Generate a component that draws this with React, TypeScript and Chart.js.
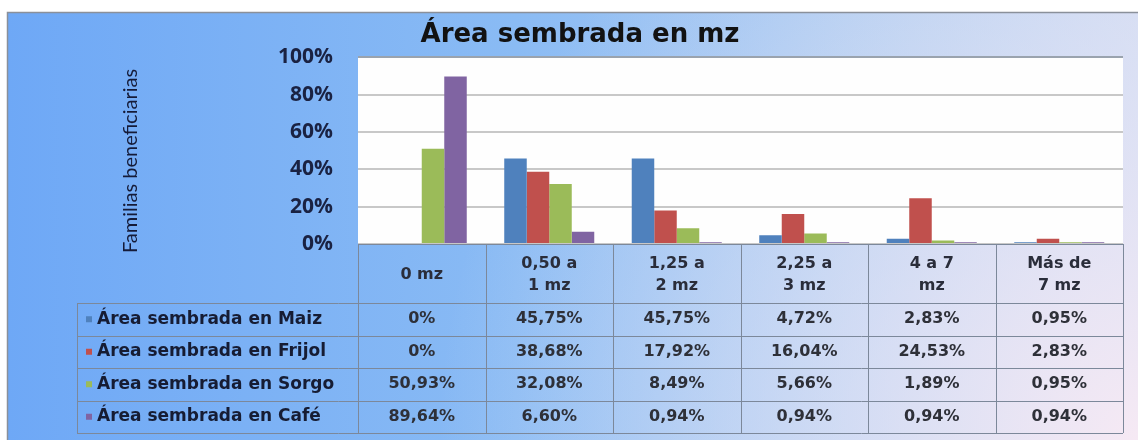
import React, { useEffect, useRef } from 'react';
import { Chart, registerables } from 'chart.js';

Chart.register(...registerables);

// ---- data ----
const categories: string[][] = [
  ['0 mz'],
  ['0,50 a', '1 mz'],
  ['1,25 a', '2 mz'],
  ['2,25 a', '3 mz'],
  ['4 a 7', 'mz'],
  ['Más de', '7 mz'],
];
const seriesNames = [
  'Área sembrada en Maiz',
  'Área sembrada en Frijol',
  'Área sembrada en Sorgo',
  'Área sembrada en Café',
];
const maiz = [0, 45.75, 45.75, 4.72, 2.83, 0.95];
const frijol = [0, 38.68, 17.92, 16.04, 24.53, 2.83];
const sorgo = [50.93, 32.08, 8.49, 5.66, 1.89, 0.95];
const cafe = [89.64, 6.6, 0.94, 0.94, 0.94, 0.94];
const yTicks = [0, 20, 40, 60, 80, 100];
const chartTitle = 'Área sembrada en mz';
const yAxisTitle = 'Familias beneficiarias';
const seriesColors = ['#4f81bd', '#c0504d', '#9bbb59', '#8064a2'];

const fmt = (v: number) => (v === 0 ? '0%' : v.toFixed(2).replace('.', ',') + '%');

const backgroundPlugin = {
  id: 'bgPanel',
  beforeDraw(chart: any) {
    const { ctx, width, height, chartArea } = chart;
    ctx.save();
    ctx.fillStyle = '#ffffff';
    ctx.fillRect(0, 0, width, height);
    const g = ctx.createLinearGradient(7, 0, width, 0);
    g.addColorStop(0, '#6ea8f6');
    g.addColorStop(0.45, '#8abbf4');
    g.addColorStop(0.8, '#b4cef1');
    g.addColorStop(1, '#ccd9f2');
    ctx.fillStyle = g;
    ctx.fillRect(7, 12, width - 7, height - 12);
    const r = ctx.createRadialGradient(width, height, 0, width, height, 700);
    r.addColorStop(0, 'rgba(248,234,244,0.95)');
    r.addColorStop(0.45, 'rgba(236,232,246,0.55)');
    r.addColorStop(1, 'rgba(230,232,246,0)');
    ctx.fillStyle = r;
    ctx.fillRect(7, 12, width - 7, height - 12);
    ctx.strokeStyle = '#8a909a';
    ctx.lineWidth = 1.5;
    ctx.beginPath();
    ctx.moveTo(7.5, height);
    ctx.lineTo(7.5, 12.5);
    ctx.lineTo(width, 12.5);
    ctx.stroke();
    ctx.fillStyle = '#fefefe';
    ctx.fillRect(chartArea.left, chartArea.top, chartArea.right - chartArea.left, chartArea.bottom - chartArea.top);
    ctx.restore();
  },
};

const tablePlugin = {
  id: 'dataTable',
  afterDraw(chart: any) {
    const { ctx, chartArea } = chart;
    const xs = chart.scales.x;
    const labels = chart.data.labels as string[][];
    const datasets = chart.data.datasets;
    const n = labels.length;
    const colW = (chartArea.right - chartArea.left) / n;
    const top = xs.top;
    const bottom = xs.bottom;
    const headerH = 59;
    const rowH = (bottom - top - headerH) / datasets.length;
    const labelLeft = 77;

    ctx.save();
    ctx.strokeStyle = '#7c889a';
    ctx.lineWidth = 1;
    const line = (x1: number, y1: number, x2: number, y2: number) => {
      ctx.beginPath();
      ctx.moveTo(x1, y1);
      ctx.lineTo(x2, y2);
      ctx.stroke();
    };
    for (let i = 0; i <= n; i++) {
      const x = Math.round(chartArea.left + i * colW) + 0.5;
      line(x, top, x, bottom);
    }
    line(labelLeft + 0.5, top + headerH, labelLeft + 0.5, bottom);
    for (let r = 0; r <= datasets.length; r++) {
      const y = Math.round(top + headerH + r * rowH) + 0.5;
      line(labelLeft, y, chartArea.right, y);
    }

    ctx.textAlign = 'center';
    ctx.textBaseline = 'middle';
    ctx.font = 'bold 16px "DejaVu Sans"';
    ctx.fillStyle = '#2a2d3a';
    labels.forEach((lab, i) => {
      const cx = xs.getPixelForValue(i);
      const lines = Array.isArray(lab) ? lab : [lab];
      const cy = top + headerH / 2 + 1;
      lines.forEach((t, k) => ctx.fillText(t, cx, cy + (k - (lines.length - 1) / 2) * 22));
    });

    datasets.forEach((ds: any, r: number) => {
      const cy = top + headerH + (r + 0.5) * rowH;
      ctx.fillStyle = ds.backgroundColor;
      ctx.fillRect(86, cy - 3, 6, 6);
      ctx.textAlign = 'left';
      ctx.font = 'bold 17px "DejaVu Sans"';
      ctx.fillStyle = '#161c33';
      ctx.fillText(ds.label, 97, cy);
      ctx.textAlign = 'center';
      ctx.font = 'bold 16px "DejaVu Sans"';
      ctx.fillStyle = '#2e3038';
      ds.data.forEach((v: number, i: number) => ctx.fillText(fmt(v), xs.getPixelForValue(i), cy));
    });

    // rotated y-axis title
    ctx.save();
    ctx.translate(131, 161);
    ctx.rotate(-Math.PI / 2);
    ctx.textAlign = 'center';
    ctx.textBaseline = 'middle';
    ctx.font = '20px Lato';
    ctx.fillStyle = '#151b38';
    ctx.fillText(yAxisTitle, 0, 0);
    ctx.restore();

    ctx.restore();
  },
};

export default function App() {
  const ref = useRef<HTMLCanvasElement | null>(null);

  useEffect(() => {
    document.body.style.margin = '0';
    if (!ref.current) return;
    const allSeries = [maiz, frijol, sorgo, cafe];
    const chart = new Chart(ref.current, {
      type: 'bar',
      data: {
        labels: categories,
        datasets: allSeries.map((d, i) => ({
          label: seriesNames[i],
          data: d,
          backgroundColor: seriesColors[i],
          borderWidth: 0,
          categoryPercentage: 0.706,
          barPercentage: 1,
        })),
      },
      options: {
        responsive: false,
        animation: false,
        layout: { padding: { left: 37, right: 15, top: 12, bottom: 7 } },
        plugins: {
          legend: { display: false },
          tooltip: { enabled: false },
          title: {
            display: true,
            text: chartTitle,
            color: '#121212',
            font: { family: 'DejaVu Sans', size: 26, weight: 'bold' },
            padding: { top: 8, bottom: 6 },
          },
        },
        scales: {
          x: {
            grid: { display: false },
            border: { display: true, color: '#7c889a', width: 1 },
            ticks: { display: false },
            afterFit: (scale: any) => {
              scale.height = 189;
            },
          },
          y: {
            min: 0,
            max: 100,
            afterBuildTicks: (scale: any) => {
              scale.ticks = yTicks.map((v) => ({ value: v }));
            },
            ticks: {
              callback: (v: any) => v + '%',
              color: '#1a2242',
              font: { family: 'Open Sans', size: 21, weight: 'bold' },
              padding: 25,
            },
            grid: {
              drawTicks: false,
              lineWidth: 2,
              color: (c: any) => (c.tick && c.tick.value === 100 ? '#9aa3ae' : '#c8c8c8'),
            },
            border: { display: false },
            afterFit: (scale: any) => {
              scale.width = 321;
            },
          },
        },
      },
      plugins: [backgroundPlugin, tablePlugin],
    });
    return () => chart.destroy();
  }, []);

  return (
    <div style={{ width: 1138, height: 440 }}>
      <canvas ref={ref} width={1138} height={440} style={{ display: 'block' }} />
    </div>
  );
}
